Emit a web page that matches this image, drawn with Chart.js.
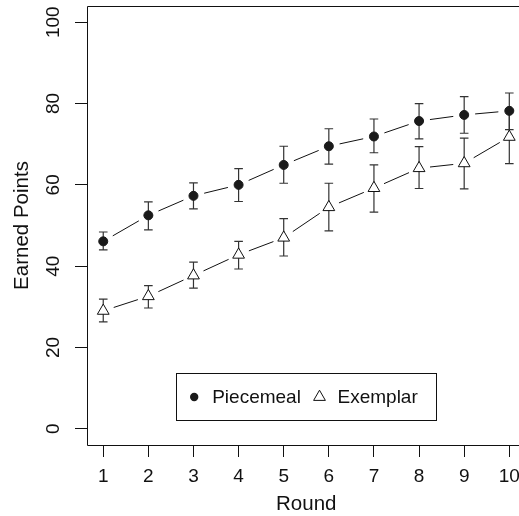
<!DOCTYPE html>
<html>
<head>
<meta charset="utf-8">
<script src="https://cdn.jsdelivr.net/npm/chart.js@4/dist/chart.umd.min.js"></script>
<style>
html,body{margin:0;padding:0;overflow:hidden;background:#fff;}
canvas{display:block;}
</style>
</head>
<body>
<canvas id="myChart" width="519" height="516"></canvas>
<script>
var rounds=[1,2,3,4,5,6,7,8,9,10];
var yTicks=[0,20,40,60,80,100];

var piecemeal=[46.1,52.5,57.3,60.0,64.9,69.5,71.9,75.7,77.2,78.2];
var piecemealLo=[44.0,48.9,54.1,55.9,60.4,65.1,67.9,71.3,72.7,73.6];
var piecemealHi=[48.4,55.8,60.5,64.0,69.5,73.8,76.2,80.0,81.7,82.6];

var exemplar=[29.0,32.6,37.7,42.8,47.0,54.5,59.2,64.1,65.3,71.8];
var exemplarLo=[26.3,29.7,34.6,39.3,42.5,48.7,53.3,59.1,59.0,65.2];
var exemplarHi=[31.9,35.2,41.0,46.1,51.7,60.4,64.9,69.4,71.5,78.4];

var font="'Liberation Sans', Arial, Helvetica, sans-serif";
var fontSize=19;
var titleSize=20.5;

function toPoints(vals){
    var pts=[];
    for(var i=0;i<rounds.length;i++){
        pts.push({x:rounds[i],y:vals[i]});
    }
    return pts;
}

var errors=[[piecemealLo,piecemealHi],[exemplarLo,exemplarHi]];

// R-style: lines with gaps round the points, error bars, box, x title and legend
var rStyle={
    id:'rStyle',
    beforeDatasetsDraw:function(chart){
        var ctx=chart.ctx;
        var xs=chart.scales.x, ys=chart.scales.y;
        var gap=11;
        ctx.save();
        // connecting lines
        ctx.strokeStyle='#111';
        ctx.lineWidth=1;
        chart.data.datasets.forEach(function(ds,d){
            var meta=chart.getDatasetMeta(d);
            for(var i=0;i<meta.data.length-1;i++){
                var a=meta.data[i], b=meta.data[i+1];
                var dx=b.x-a.x, dy=b.y-a.y;
                var len=Math.sqrt(dx*dx+dy*dy);
                if(len<=2*gap) continue;
                var ux=dx/len, uy=dy/len;
                ctx.beginPath();
                ctx.moveTo(a.x+ux*gap,a.y+uy*gap);
                ctx.lineTo(b.x-ux*gap,b.y-uy*gap);
                ctx.stroke();
            }
        });
        // error bars
        ctx.strokeStyle='#333';
        ctx.lineWidth=1.2;
        var cap=4.3;
        errors.forEach(function(e){
            for(var i=0;i<rounds.length;i++){
                var px=xs.getPixelForValue(rounds[i]);
                var lo=ys.getPixelForValue(e[0][i]);
                var hi=ys.getPixelForValue(e[1][i]);
                ctx.beginPath();
                ctx.moveTo(px,lo);ctx.lineTo(px,hi);
                ctx.moveTo(px-cap,lo);ctx.lineTo(px+cap,lo);
                ctx.moveTo(px-cap,hi);ctx.lineTo(px+cap,hi);
                ctx.stroke();
            }
        });
        ctx.restore();
    },
    afterDraw:function(chart){
        var ctx=chart.ctx;
        var area=chart.chartArea;
        var xs=chart.scales.x;
        ctx.save();
        // plot box; its right side lies past the edge of the cropped figure
        var l=Math.round(area.left)+0.5, t=Math.round(area.top)+0.5, b=Math.round(area.bottom)+0.5;
        ctx.strokeStyle='#111';
        ctx.lineWidth=1;
        ctx.beginPath();
        ctx.moveTo(chart.width+2,t);ctx.lineTo(l,t);ctx.lineTo(l,b);ctx.lineTo(chart.width+2,b);
        ctx.stroke();

        // x title, centred on the full R plot region
        var mid=(rounds[0]+rounds[rounds.length-1])/2;
        ctx.fillStyle='#111';
        ctx.font=titleSize+'px '+font;
        ctx.textAlign='center';
        ctx.textBaseline='middle';
        ctx.fillText('Round',xs.getPixelForValue(mid),504);

        // legend
        ctx.font=fontSize+'px '+font;
        var w1=ctx.measureText('Piecemeal').width;
        var w2=ctx.measureText('Exemplar').width;
        var padL=17.7, symGap=18, itemGap=18.6, padR=19;
        var boxW=padL+symGap+w1+itemGap+symGap+w2+padR;
        var boxH=47;
        var cx=xs.getPixelForValue(mid);
        var bx=Math.round(cx-boxW/2)+0.5;
        var by=Math.round(area.bottom-24.7-boxH)+0.5;
        ctx.strokeRect(bx,by,Math.round(boxW),boxH);
        var my=by+boxH/2;
        var x1=bx+padL;
        ctx.fillStyle='#1a1a1a';
        ctx.beginPath();
        ctx.arc(x1,my,4.2,0,Math.PI*2);
        ctx.fill();
        ctx.fillStyle='#111';
        ctx.textAlign='left';
        ctx.fillText('Piecemeal',x1+symGap,my+1);
        var x2=x1+symGap+w1+itemGap;
        var r=6.8;
        ctx.beginPath();
        ctx.moveTo(x2,my-r);
        ctx.lineTo(x2+r*Math.sin(Math.PI*2/3),my+r/2);
        ctx.lineTo(x2-r*Math.sin(Math.PI*2/3),my+r/2);
        ctx.closePath();
        ctx.strokeStyle='#111';
        ctx.stroke();
        ctx.fillText('Exemplar',x2+symGap,my+1);
        ctx.restore();
    }
};

var ctx=document.getElementById("myChart");
var myChart=new Chart(ctx,{
    type:'line',
    data:{
        datasets:[
            {
                label:"Piecemeal",
                data:toPoints(piecemeal),
                showLine:false,
                pointStyle:'circle',
                pointRadius:4.5,
                pointBackgroundColor:'#1a1a1a',
                pointBorderColor:'#1a1a1a',
                pointBorderWidth:1
            },
            {
                label:"Exemplar",
                data:toPoints(exemplar),
                showLine:false,
                pointStyle:'triangle',
                pointRadius:6.8,
                pointBackgroundColor:'#fff',
                pointBorderColor:'#111',
                pointBorderWidth:1
            }
        ]
    },
    options:{
        responsive:false,
        animation:false,
        devicePixelRatio:1,
        layout:{autoPadding:false,padding:{top:6,left:0,right:0,bottom:0}},
        plugins:{legend:{display:false},tooltip:{enabled:false}},
        scales:{
            x:{
                type:'linear',
                min:0.64,
                max:10.215,
                afterBuildTicks:function(s){s.ticks=rounds.map(function(v){return {value:v};});},
                afterFit:function(s){s.height=71;s.paddingLeft=0;s.paddingRight=0;},
                grid:{drawOnChartArea:false,drawTicks:true,tickLength:12,color:'#111',lineWidth:1},
                border:{display:false},
                ticks:{color:'#111',padding:8,maxRotation:0,font:{family:font,size:fontSize}}
            },
            y:{
                type:'linear',
                min:-4,
                max:104,
                afterBuildTicks:function(s){s.ticks=yTicks.map(function(v){return {value:v};});},
                afterFit:function(s){s.width=87;s.paddingTop=0;s.paddingBottom=0;},
                grid:{drawOnChartArea:false,drawTicks:true,tickLength:12,color:'#111',lineWidth:1},
                border:{display:false},
                ticks:{color:'#111',padding:5,minRotation:90,maxRotation:90,crossAlign:'center',font:{family:font,size:fontSize}},
                title:{display:true,text:'Earned Points',color:'#111',padding:{top:10,bottom:0},font:{family:font,size:titleSize}}
            }
        }
    },
    plugins:[rStyle]
});
</script>
</body>
</html>
